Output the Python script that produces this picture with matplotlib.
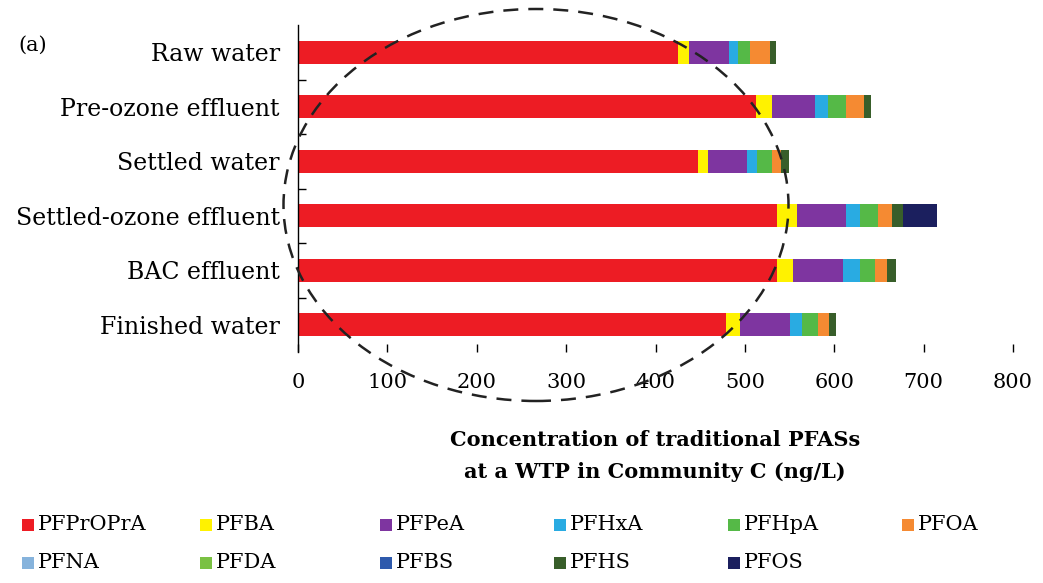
import matplotlib
matplotlib.use("Agg")
import matplotlib.pyplot as plt
from matplotlib.patches import Ellipse, Rectangle
import numpy as np

categories = ["Raw water", "Pre-ozone effluent", "Settled water",
              "Settled-ozone effluent", "BAC effluent", "Finished water"]
series_names = ["PFPrOPrA", "PFBA", "PFPeA", "PFHxA", "PFHpA", "PFOA",
                "PFNA", "PFDA", "PFBS", "PFHS", "PFOS"]
PFPrOPrA = [425, 512, 447, 536, 536, 479]
PFBA     = [12, 18, 12, 22, 18, 15]
PFPeA    = [45, 49, 43, 55, 56, 57]
PFHxA    = [10, 14, 12, 16, 19, 13]
PFHpA    = [14, 20, 16, 20, 17, 18]
PFOA     = [22, 20, 10, 16, 13, 12]
PFNA     = [0, 0, 0, 0, 0, 0]
PFDA     = [0, 0, 0, 0, 0, 0]
PFBS     = [0, 0, 0, 0, 0, 0]
PFHS     = [7, 8, 9, 12, 10, 8]
PFOS     = [0, 0, 0, 38, 0, 0]
series_values = [PFPrOPrA, PFBA, PFPeA, PFHxA, PFHpA, PFOA,
                 PFNA, PFDA, PFBS, PFHS, PFOS]
colors = ["#ED1C24", "#FFF200", "#7E35A0", "#29ABE2", "#55B947", "#F58A32",
          "#86B3DC", "#7AC143", "#2E5AAC", "#385E2A", "#1B1F5E"]
xticks = [0, 100, 200, 300, 400, 500, 600, 700, 800]

serif = ["DejaVu Serif", "Liberation Serif"]
plt.rcParams["font.family"] = serif

W, H = 1043, 583
fig = plt.figure(figsize=(W / 100, H / 100), dpi=100)
ax = fig.add_axes([298 / W, 1 - 352 / H, (1013 - 298) / W, (352 - 25) / H])

y = np.arange(len(categories))
left = np.zeros(len(categories))
for name, vals, c in zip(series_names, series_values, colors):
    vals = np.array(vals, dtype=float)
    ax.barh(y, vals, left=left, height=0.42, color=c, label=name)
    left += vals

ax.set_ylim(len(categories) - 0.5, -0.5)
ax.set_xlim(0, 800)
ax.set_xticks(xticks)
ax.set_xticklabels([str(t) for t in xticks], fontsize=15)
ax.set_yticks(y)
ax.set_yticklabels(categories, fontsize=17)
ax.set_yticks(np.arange(0.5, len(categories) - 0.5, 1), minor=True)
ax.tick_params(axis="y", which="major", length=0, pad=13)
ax.tick_params(axis="y", which="minor", length=6, direction="in", width=1)
ax.tick_params(axis="x", which="major", length=6, direction="in", pad=15, width=1)
for s in ["top", "right", "bottom"]:
    ax.spines[s].set_visible(False)
ax.spines["left"].set_linewidth(1.0)

fig.text(655 / W, 1 - 440 / H, "Concentration of traditional PFASs",
         ha="center", va="center", fontsize=15, fontweight="bold")
fig.text(655 / W, 1 - 472 / H, "at a WTP in Community C (ng/L)",
         ha="center", va="center", fontsize=15, fontweight="bold")
fig.text(18 / W, 1 - 45 / H, "(a)", ha="left", va="center", fontsize=15)

# legend (manual grid)
col_x = [22, 200, 380, 554, 728, 902]
row_y = [525, 563]
for i, (name, c) in enumerate(zip(series_names, colors)):
    r, k = divmod(i, 6)
    x0 = col_x[k]
    yc = row_y[r]
    fig.add_artist(Rectangle((x0 / W, 1 - (yc + 6) / H), 12 / W, 12 / H,
                             transform=fig.transFigure, facecolor=c,
                             edgecolor="none"))
    fig.text((x0 + 16) / W, 1 - yc / H, name, ha="left", va="center",
             fontsize=15)

# dashed ellipse
fig.add_artist(Ellipse((536 / W, 1 - 205 / H), 505 / W, 392 / H,
                       transform=fig.transFigure, fill=False,
                       edgecolor="#222222", linestyle=(0, (6, 4)),
                       linewidth=1.8, zorder=10))

fig.savefig("out.png", dpi=100)
